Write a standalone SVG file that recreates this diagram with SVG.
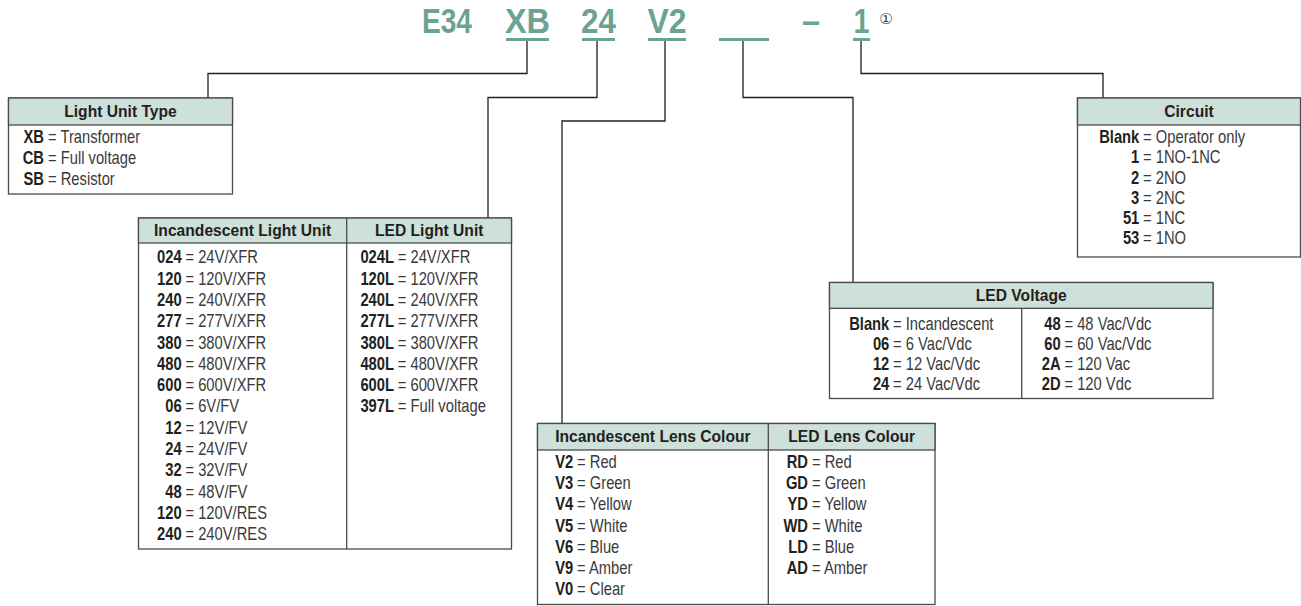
<svg xmlns="http://www.w3.org/2000/svg" width="1301" height="606" viewBox="0 0 1301 606">
<style>
.ttl{font-family:"Liberation Sans",Arial,sans-serif;font-weight:bold;font-size:35px;fill:#6ba393}
.ul{fill:#6ba393}
.hd{font-family:"Liberation Sans",Arial,sans-serif;font-weight:bold;font-size:17px;fill:#231f20;text-anchor:middle}
.c{font-family:"Liberation Sans",Arial,sans-serif;font-weight:bold;font-size:18px;fill:#231f20;text-anchor:end}
.v{font-family:"Liberation Sans",Arial,sans-serif;font-size:18px;fill:#3a3a3a}
.box{fill:#fff;stroke:#4a4a4a;stroke-width:1.3}
.hfill{fill:#cde0da;stroke:#4a4a4a;stroke-width:1.3}
.ln{fill:none;stroke:#4a4a4a;stroke-width:1.3}
.con{fill:none;stroke:#231f20;stroke-width:1.3}
</style>
<rect width="1301" height="606" fill="#fff"/>
<g id="title">
<text class="ttl" x="447" y="33" text-anchor="middle" textLength="50" lengthAdjust="spacingAndGlyphs">E34</text>
<text class="ttl" x="527.5" y="33" text-anchor="middle" textLength="45" lengthAdjust="spacingAndGlyphs">XB</text>
<text class="ttl" x="598.5" y="33" text-anchor="middle" textLength="35" lengthAdjust="spacingAndGlyphs">24</text>
<text class="ttl" x="667" y="33" text-anchor="middle" textLength="39" lengthAdjust="spacingAndGlyphs">V2</text>
<text class="ttl" x="811" y="33" text-anchor="middle" textLength="18" lengthAdjust="spacingAndGlyphs">–</text>
<text class="ttl" x="861.5" y="33" text-anchor="middle" textLength="16" lengthAdjust="spacingAndGlyphs">1</text>
<text x="886" y="24" text-anchor="middle" style="font-family:'DejaVu Sans','Noto Sans CJK SC',sans-serif;font-size:15px;fill:#444">①</text>
<rect class="ul" x="506" y="38" width="43" height="3"/>
<rect class="ul" x="582" y="38" width="33" height="3"/>
<rect class="ul" x="648" y="38" width="38" height="3"/>
<rect class="ul" x="719" y="38" width="50" height="3"/>
<rect class="ul" x="853" y="38" width="17" height="3"/>
</g>
<g id="connectors">
<path class="con" d="M527,41V73.5H208V98"/>
<path class="con" d="M597,41V97.5H488V218"/>
<path class="con" d="M665,41V121H562V423.5"/>
<path class="con" d="M743,41V97.5H853V282.5"/>
<path class="con" d="M861,41V73.5H1103V98"/>
</g>
<g id="light-unit-type">
<rect class="box" x="8.5" y="98" width="224" height="96"/>
<rect class="hfill" x="8.5" y="98" width="224" height="27"/>
<g transform="translate(120.5 0) scale(0.92 1)"><text class="hd" x="0" y="117.5">Light Unit Type</text></g>
<g transform="translate(44 0) scale(0.82 1)">
<text class="c" x="0" y="143">XB</text><text class="v" x="4.9" y="143">= Transformer</text>
<text class="c" x="0" y="164">CB</text><text class="v" x="4.9" y="164">= Full voltage</text>
<text class="c" x="0" y="185">SB</text><text class="v" x="4.9" y="185">= Resistor</text>
</g>
</g>
<g id="light-unit">
<rect class="box" x="138.5" y="218" width="373" height="331"/>
<rect class="hfill" x="138.5" y="218" width="373" height="25"/>
<line class="ln" x1="346.7" y1="218" x2="346.7" y2="549"/>
<g transform="translate(242.6 0) scale(0.92 1)"><text class="hd" x="0" y="236.5">Incandescent Light Unit</text></g>
<g transform="translate(429.2 0) scale(0.92 1)"><text class="hd" x="0" y="236.5">LED Light Unit</text></g>
<g transform="translate(181.7 0) scale(0.82 1)">
<text class="c" x="0" y="263.4">024</text><text class="v" x="4.6" y="263.4">= 24V/XFR</text>
<text class="c" x="0" y="284.7">120</text><text class="v" x="4.6" y="284.7">= 120V/XFR</text>
<text class="c" x="0" y="306">240</text><text class="v" x="4.6" y="306">= 240V/XFR</text>
<text class="c" x="0" y="327.3">277</text><text class="v" x="4.6" y="327.3">= 277V/XFR</text>
<text class="c" x="0" y="348.6">380</text><text class="v" x="4.6" y="348.6">= 380V/XFR</text>
<text class="c" x="0" y="369.9">480</text><text class="v" x="4.6" y="369.9">= 480V/XFR</text>
<text class="c" x="0" y="391.2">600</text><text class="v" x="4.6" y="391.2">= 600V/XFR</text>
<text class="c" x="0" y="412.5">06</text><text class="v" x="4.6" y="412.5">= 6V/FV</text>
<text class="c" x="0" y="433.8">12</text><text class="v" x="4.6" y="433.8">= 12V/FV</text>
<text class="c" x="0" y="455.1">24</text><text class="v" x="4.6" y="455.1">= 24V/FV</text>
<text class="c" x="0" y="476.4">32</text><text class="v" x="4.6" y="476.4">= 32V/FV</text>
<text class="c" x="0" y="497.7">48</text><text class="v" x="4.6" y="497.7">= 48V/FV</text>
<text class="c" x="0" y="519">120</text><text class="v" x="4.6" y="519">= 120V/RES</text>
<text class="c" x="0" y="540.3">240</text><text class="v" x="4.6" y="540.3">= 240V/RES</text>
</g>
<g transform="translate(394 0) scale(0.82 1)">
<text class="c" x="0" y="263.4">024L</text><text class="v" x="4.6" y="263.4">= 24V/XFR</text>
<text class="c" x="0" y="284.7">120L</text><text class="v" x="4.6" y="284.7">= 120V/XFR</text>
<text class="c" x="0" y="306">240L</text><text class="v" x="4.6" y="306">= 240V/XFR</text>
<text class="c" x="0" y="327.3">277L</text><text class="v" x="4.6" y="327.3">= 277V/XFR</text>
<text class="c" x="0" y="348.6">380L</text><text class="v" x="4.6" y="348.6">= 380V/XFR</text>
<text class="c" x="0" y="369.9">480L</text><text class="v" x="4.6" y="369.9">= 480V/XFR</text>
<text class="c" x="0" y="391.2">600L</text><text class="v" x="4.6" y="391.2">= 600V/XFR</text>
<text class="c" x="0" y="412.5">397L</text><text class="v" x="4.6" y="412.5">= Full voltage</text>
</g>
</g>
<g id="lens-colour">
<rect class="box" x="537.5" y="423.5" width="397.5" height="181"/>
<rect class="hfill" x="537.5" y="423.5" width="397.5" height="26.5"/>
<line class="ln" x1="768.3" y1="423.5" x2="768.3" y2="604.5"/>
<g transform="translate(652.9 0) scale(0.92 1)"><text class="hd" x="0" y="442.5">Incandescent Lens Colour</text></g>
<g transform="translate(851.7 0) scale(0.92 1)"><text class="hd" x="0" y="442.5">LED Lens Colour</text></g>
<g transform="translate(573.3 0) scale(0.82 1)">
<text class="c" x="0" y="468.1">V2</text><text class="v" x="4.6" y="468.1">= Red</text>
<text class="c" x="0" y="489.3">V3</text><text class="v" x="4.6" y="489.3">= Green</text>
<text class="c" x="0" y="510.5">V4</text><text class="v" x="4.6" y="510.5">= Yellow</text>
<text class="c" x="0" y="531.7">V5</text><text class="v" x="4.6" y="531.7">= White</text>
<text class="c" x="0" y="552.9">V6</text><text class="v" x="4.6" y="552.9">= Blue</text>
<text class="c" x="0" y="574.1">V9</text><text class="v" x="4.6" y="574.1">= Amber</text>
<text class="c" x="0" y="595.3">V0</text><text class="v" x="4.6" y="595.3">= Clear</text>
</g>
<g transform="translate(808 0) scale(0.82 1)">
<text class="c" x="0" y="468.1">RD</text><text class="v" x="4.9" y="468.1">= Red</text>
<text class="c" x="0" y="489.3">GD</text><text class="v" x="4.9" y="489.3">= Green</text>
<text class="c" x="0" y="510.5">YD</text><text class="v" x="4.9" y="510.5">= Yellow</text>
<text class="c" x="0" y="531.7">WD</text><text class="v" x="4.9" y="531.7">= White</text>
<text class="c" x="0" y="552.9">LD</text><text class="v" x="4.9" y="552.9">= Blue</text>
<text class="c" x="0" y="574.1">AD</text><text class="v" x="4.9" y="574.1">= Amber</text>
</g>
</g>
<g id="led-voltage">
<rect class="box" x="829.5" y="282.5" width="383.5" height="116"/>
<rect class="hfill" x="829.5" y="282.5" width="383.5" height="25.8"/>
<line class="ln" x1="1021.7" y1="308.3" x2="1021.7" y2="398.5"/>
<g transform="translate(1021.2 0) scale(0.92 1)"><text class="hd" x="0" y="301.5">LED Voltage</text></g>
<g transform="translate(889.3 0) scale(0.82 1)">
<text class="c" x="0" y="329.7">Blank</text><text class="v" x="4.6" y="329.7">= Incandescent</text>
<text class="c" x="0" y="349.7">06</text><text class="v" x="4.6" y="349.7">= 6 Vac/Vdc</text>
<text class="c" x="0" y="369.7">12</text><text class="v" x="4.6" y="369.7">= 12 Vac/Vdc</text>
<text class="c" x="0" y="389.7">24</text><text class="v" x="4.6" y="389.7">= 24 Vac/Vdc</text>
</g>
<g transform="translate(1060.7 0) scale(0.82 1)">
<text class="c" x="0" y="329.7">48</text><text class="v" x="4.6" y="329.7">= 48 Vac/Vdc</text>
<text class="c" x="0" y="349.7">60</text><text class="v" x="4.6" y="349.7">= 60 Vac/Vdc</text>
<text class="c" x="0" y="369.7">2A</text><text class="v" x="4.6" y="369.7">= 120 Vac</text>
<text class="c" x="0" y="389.7">2D</text><text class="v" x="4.6" y="389.7">= 120 Vdc</text>
</g>
</g>
<g id="circuit">
<rect class="box" x="1077.5" y="98" width="223" height="159"/>
<rect class="hfill" x="1077.5" y="98" width="223" height="27"/>
<g transform="translate(1189 0) scale(0.92 1)"><text class="hd" x="0" y="117.5">Circuit</text></g>
<g transform="translate(1139.3 0) scale(0.82 1)">
<text class="c" x="0" y="143">Blank</text><text class="v" x="4.6" y="143">= Operator only</text>
<text class="c" x="0" y="163.3">1</text><text class="v" x="4.6" y="163.3">= 1NO-1NC</text>
<text class="c" x="0" y="183.6">2</text><text class="v" x="4.6" y="183.6">= 2NO</text>
<text class="c" x="0" y="203.9">3</text><text class="v" x="4.6" y="203.9">= 2NC</text>
<text class="c" x="0" y="224.2">51</text><text class="v" x="4.6" y="224.2">= 1NC</text>
<text class="c" x="0" y="244.5">53</text><text class="v" x="4.6" y="244.5">= 1NO</text>
</g>
</g>
</svg>
